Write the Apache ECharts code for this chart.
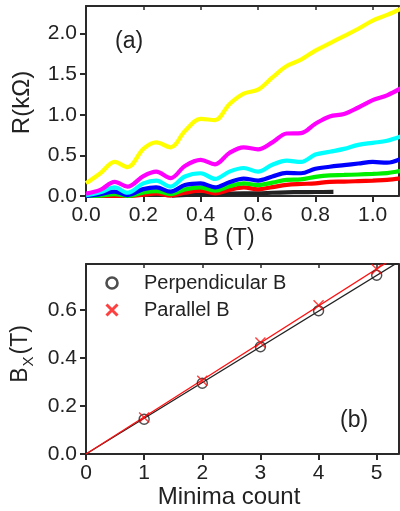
<!DOCTYPE html>
<html><head><meta charset="utf-8">
<script src="https://cdn.jsdelivr.net/npm/echarts@6/dist/echarts.min.js"></script>
<style>html,body{margin:0;padding:0;background:#fff}#c{width:400px;height:511px}</style>
</head><body><div id="c"></div>
<script>
// ---- panel (a) data: R (kOhm) vs B (T)
const bGrid = [0, 0.05, 0.1, 0.145, 0.2, 0.245, 0.295, 0.345, 0.4, 0.45, 0.5, 0.55, 0.6, 0.65, 0.7, 0.75, 0.8, 0.85, 0.9, 0.95, 1.0, 1.05, 1.1];
const yellowR  = [0.156, 0.28, 0.42, 0.355, 0.58, 0.66, 0.60, 0.80, 0.95, 0.935, 1.13, 1.26, 1.31, 1.46, 1.60, 1.68, 1.79, 1.88, 1.97, 2.06, 2.16, 2.23, 2.31];
const magentaR = [0.03, 0.075, 0.175, 0.115, 0.245, 0.30, 0.22, 0.37, 0.445, 0.39, 0.53, 0.60, 0.575, 0.66, 0.77, 0.775, 0.89, 0.98, 1.01, 1.09, 1.18, 1.24, 1.33];
const cyanR    = [0.01, 0.045, 0.105, 0.04, 0.155, 0.19, 0.115, 0.24, 0.28, 0.21, 0.30, 0.345, 0.30, 0.385, 0.435, 0.42, 0.51, 0.545, 0.58, 0.63, 0.655, 0.68, 0.735];
const blueR    = [0.0, 0.024, 0.055, 0.012, 0.085, 0.107, 0.053, 0.135, 0.156, 0.107, 0.17, 0.215, 0.19, 0.24, 0.285, 0.28, 0.335, 0.36, 0.38, 0.40, 0.42, 0.41, 0.46];
const greenR   = [0.0, 0.004, 0.024, 0.0, 0.042, 0.06, 0.024, 0.082, 0.107, 0.066, 0.12, 0.155, 0.135, 0.165, 0.198, 0.205, 0.236, 0.255, 0.259, 0.265, 0.272, 0.282, 0.31];
const redR     = [0.0, 0.0, 0.0, 0.0, 0.015, 0.033, 0.004, 0.04, 0.066, 0.033, 0.074, 0.105, 0.082, 0.11, 0.137, 0.148, 0.156, 0.175, 0.177, 0.183, 0.19, 0.198, 0.218];
const blackB   = [0.3, 0.35, 0.4, 0.45, 0.5, 0.55, 0.6, 0.65, 0.7, 0.75, 0.8, 0.863];
const blackR   = [0.005, 0.012, 0.02, 0.02, 0.03, 0.033, 0.033, 0.04, 0.045, 0.048, 0.049, 0.05];
const aXTicks = [0, 0.2, 0.4, 0.6, 0.8, 1.0];
const aYTicks = [0, 0.5, 1.0, 1.5, 2.0];

// ---- panel (b) data: B_X (T) vs minima count
const minimaCount = [1, 2, 3, 4, 5];
const perpBx = [0.145, 0.295, 0.447, 0.597, 0.745];
const parBx  = [0.152, 0.305, 0.465, 0.62, 0.77];
const bXTicks = [0, 1, 2, 3, 4, 5];
const bYTicks = [0, 0.2, 0.4, 0.6];

const FONT = 'Liberation Sans, Arial, Helvetica, sans-serif';
const AX = '#2a2a2a';

function pairs(xs, ys) { return xs.map((x, i) => [x, ys[i]]); }
function fitSlope(xs, ys) { // least squares through origin
  let sxy = 0, sxx = 0;
  xs.forEach((x, i) => { sxy += x * ys[i]; sxx += x * x; });
  return sxy / sxx;
}
const perpSlope = fitSlope(minimaCount, perpBx);
const parSlope = fitSlope(minimaCount, parBx);
const fitEnd = 6;

function mainX(grid, max, ticks, dec) {
  return {
    type: 'value', gridIndex: grid, min: 0, max: max, position: 'bottom',
    axisLine: { show: true, onZero: false, lineStyle: { color: AX, width: 2 } },
    axisTick: { show: true, inside: false, length: 6, customValues: ticks, lineStyle: { color: AX, width: 2 } },
    axisLabel: { show: true, customValues: ticks, margin: 9, fontSize: 21, color: '#222', fontFamily: FONT,
      formatter: v => v.toFixed(dec) },
    splitLine: { show: false }
  };
}
function topX(grid, max, ticks) {
  return {
    type: 'value', gridIndex: grid, min: 0, max: max, position: 'top',
    axisLine: { show: true, onZero: false, lineStyle: { color: AX, width: 2 } },
    axisTick: { show: true, inside: true, length: 4, customValues: ticks, lineStyle: { color: AX, width: 1.5 } },
    axisLabel: { show: false }, splitLine: { show: false }
  };
}
function mainY(grid, max, ticks, dec) {
  return {
    type: 'value', gridIndex: grid, min: 0, max: max, position: 'left',
    axisLine: { show: true, onZero: false, lineStyle: { color: AX, width: 2 } },
    axisTick: { show: true, inside: false, length: 6, customValues: ticks, lineStyle: { color: AX, width: 2 } },
    axisLabel: { show: true, customValues: ticks, margin: 9, fontSize: 21, color: '#222', fontFamily: FONT,
      formatter: v => v.toFixed(dec) },
    splitLine: { show: false }
  };
}
function rightY(grid, max) {
  return {
    type: 'value', gridIndex: grid, min: 0, max: max, position: 'right',
    axisLine: { show: true, onZero: false, lineStyle: { color: AX, width: 2 } },
    axisTick: { show: false }, axisLabel: { show: false }, splitLine: { show: false }
  };
}
function curve(name, xs, ys, color, z) {
  return { name: name, type: 'line', xAxisIndex: 0, yAxisIndex: 0, data: pairs(xs, ys),
    symbol: 'none', smooth: 0.35, clip: true, z: z,
    lineStyle: { color: color, width: 4.2 } };
}

const XPATH = 'path://M0,0L10,10M0,10L10,0';

const option = {
  animation: false,
  backgroundColor: '#fff',
  grid: [
    { left: 86, top: 6, width: 312.5, height: 190 },
    { left: 86, top: 264, width: 312.5, height: 190 }
  ],
  xAxis: [mainX(0, 1.09, aXTicks, 1), topX(0, 1.09, aXTicks), mainX(1, 5.375, bXTicks, 0), topX(1, 5.375, bXTicks)],
  yAxis: [mainY(0, 2.34, aYTicks, 1), rightY(0, 2.34), mainY(1, 0.792, bYTicks, 1), rightY(1, 0.792)],
  legend: {
    orient: 'vertical', left: 100, top: 268, itemWidth: 54, itemHeight: 11, itemGap: 7,
    textStyle: { fontSize: 20, color: '#222', fontFamily: FONT },
    data: [
      { name: 'Perpendicular B', icon: 'circle', itemStyle: { color: 'transparent', borderColor: '#222', borderWidth: 2.6 } },
      { name: 'Parallel B', icon: XPATH, itemStyle: { color: 'transparent', borderColor: '#ff1010', borderWidth: 3 } }
    ]
  },
  series: [
    curve('black', blackB, blackR, '#222222', 2),
    curve('red', bGrid, redR, '#ff0000', 3),
    curve('green', bGrid, greenR, '#00ee00', 4),
    curve('blue', bGrid, blueR, '#0000ff', 5),
    curve('cyan', bGrid, cyanR, '#00ffff', 6),
    curve('magenta', bGrid, magentaR, '#ff00ff', 7),
    curve('yellow', bGrid, yellowR, '#ffff00', 8),
    { name: 'perpFit', type: 'line', xAxisIndex: 2, yAxisIndex: 2, symbol: 'none', clip: true, z: 3,
      data: [[0, 0], [fitEnd, perpSlope * fitEnd]], lineStyle: { color: '#222', width: 1.3 } },
    { name: 'parFit', type: 'line', xAxisIndex: 2, yAxisIndex: 2, symbol: 'none', clip: true, z: 4,
      data: [[0, 0], [fitEnd, parSlope * fitEnd]], lineStyle: { color: '#ff1010', width: 1.3 } },
    { name: 'Perpendicular B', type: 'scatter', xAxisIndex: 2, yAxisIndex: 2, symbol: 'circle', symbolSize: 10, z: 5,
      data: pairs(minimaCount, perpBx),
      itemStyle: { color: 'transparent', borderColor: '#222', borderWidth: 1.4 } },
    { name: 'Parallel B', type: 'scatter', xAxisIndex: 2, yAxisIndex: 2, symbol: XPATH, symbolSize: 10, z: 6,
      data: pairs(minimaCount, parBx),
      itemStyle: { color: 'transparent', borderColor: '#ff1010', borderWidth: 1.4 } }
  ],
  graphic: [
    { type: 'text', left: 115, top: 30, style: { text: '(a)', fontSize: 23, fill: '#222', fontFamily: FONT } },
    { type: 'text', left: 340, top: 409, style: { text: '(b)', fontSize: 23, fill: '#222', fontFamily: FONT } },
    { type: 'text', x: 229, y: 239, style: { text: 'B (T)', fontSize: 23, fill: '#222', fontFamily: FONT, align: 'center', verticalAlign: 'middle' } },
    { type: 'text', x: 229, y: 497, style: { text: 'Minima count', fontSize: 24, fill: '#222', fontFamily: FONT, align: 'center', verticalAlign: 'middle' } },
    { type: 'text', x: 22, y: 102.5, rotation: Math.PI / 2,
      style: { text: 'R(kΩ)', fontSize: 24, fill: '#222', fontFamily: FONT, align: 'center', verticalAlign: 'middle' } },
    { type: 'text', x: 23, y: 354, rotation: Math.PI / 2,
      style: { text: '{b|B}{s|X}{b|(T)}', fill: '#222', fontFamily: FONT, align: 'center', verticalAlign: 'middle',
        rich: {
          b: { fontSize: 23, fontFamily: FONT, fill: '#222', verticalAlign: 'bottom', padding: [0, 0, 4, 0] },
          s: { fontSize: 15, fontFamily: FONT, fill: '#222', verticalAlign: 'bottom', padding: [0, 2, 0, 1] }
        } } }
  ]
};
const chart = echarts.init(document.getElementById('c'), null, { renderer: 'canvas' });
chart.setOption(option);
</script></body></html>
